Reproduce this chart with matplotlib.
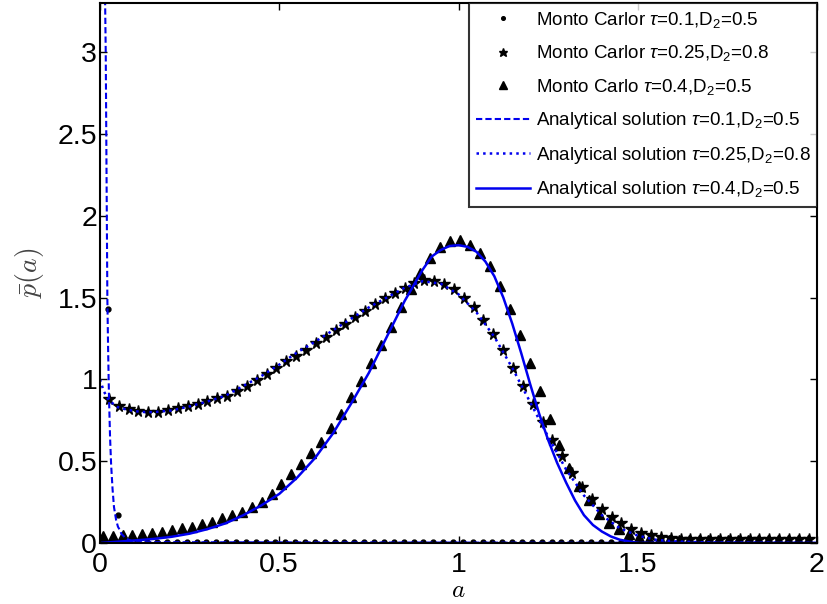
import numpy as np
import matplotlib
matplotlib.use("Agg")
import matplotlib.pyplot as plt

plt.rcParams['font.family'] = ['Liberation Sans', 'DejaVu Sans']
plt.rcParams['mathtext.fontset'] = 'custom'
plt.rcParams['mathtext.rm'] = 'Liberation Sans'
plt.rcParams['mathtext.it'] = 'Liberation Sans:italic'

# ---------------- data ----------------
# Monte Carlo, tau=0.1, D2=0.5 (dots)
mc1_x = [0.022, 0.0495] + [0.077 + 0.0275 * k for k in range(70)]
mc1_y = [1.43, 0.17, 0.012] + [0.004] * 69

# Monte Carlo, tau=0.25, D2=0.8 (stars)
mc2_x = [0.0245 + 0.0275 * k for k in range(72)]
mc2_y = [0.88, 0.835, 0.82, 0.805, 0.80, 0.80, 0.81, 0.825, 0.835, 0.85,
         0.87, 0.885, 0.90, 0.93, 0.96, 0.995, 1.03, 1.07, 1.11, 1.14,
         1.18, 1.22, 1.26, 1.30, 1.34, 1.38, 1.42, 1.46, 1.50, 1.53,
         1.56, 1.59, 1.61, 1.60, 1.58, 1.55, 1.50, 1.44, 1.36, 1.28,
         1.18, 1.07, 0.96, 0.85, 0.74, 0.63, 0.53, 0.43, 0.34, 0.27,
         0.21, 0.16, 0.12, 0.085, 0.06, 0.048, 0.037, 0.03] + [0.025] * 14

# Monte Carlo, tau=0.4, D2=0.5 (triangles)
mc3_x = [0.0075 + 0.0277 * k for k in range(72)]
mc3_y = [0.04, 0.043, 0.05, 0.05, 0.055, 0.06, 0.07, 0.08, 0.09, 0.10,
         0.115, 0.13, 0.15, 0.17, 0.19, 0.22, 0.25, 0.30, 0.36, 0.42,
         0.48, 0.55, 0.62, 0.70, 0.79, 0.89, 0.99, 1.10, 1.21, 1.32,
         1.44, 1.55, 1.65, 1.74, 1.81, 1.845, 1.85, 1.82, 1.77, 1.69,
         1.57, 1.43, 1.27, 1.10, 0.93, 0.76, 0.60, 0.46, 0.35, 0.26,
         0.18, 0.12, 0.085, 0.055, 0.035, 0.025] + [0.02] * 16

# Analytical solution, tau=0.1, D2=0.5 (dashed)
an1_x = [0.014, 0.016, 0.0175, 0.019, 0.0205, 0.0225, 0.025, 0.028, 0.031,
         0.035, 0.039, 0.045, 0.05, 0.055, 0.06, 0.069, 0.08, 0.09, 0.1, 2.0]
an1_y = [3.35, 3.0, 2.5, 2.0, 1.5, 1.2, 0.9, 0.65, 0.48,
         0.33, 0.22, 0.14, 0.10, 0.08, 0.055, 0.035, 0.02, 0.01, 0.005, 0.0]

# Analytical solution, tau=0.25, D2=0.8 (dotted)
an2_x = [0.0, 0.01, 0.025, 0.05, 0.075, 0.1, 0.125, 0.15, 0.2, 0.25, 0.3,
         0.35, 0.4, 0.45, 0.5, 0.55, 0.6, 0.65, 0.7, 0.75, 0.8, 0.85, 0.9,
         0.95, 1.0, 1.05, 1.1, 1.15, 1.2, 1.25, 1.3, 1.35, 1.4, 1.45, 1.5,
         1.55, 1.6, 1.7, 2.0]
an2_y = [1.0, 0.93, 0.87, 0.83, 0.815, 0.805, 0.80, 0.80, 0.81, 0.835, 0.865,
         0.90, 0.96, 1.02, 1.09, 1.165, 1.23, 1.30, 1.37, 1.44, 1.50, 1.56, 1.60,
         1.585, 1.52, 1.41, 1.26, 1.07, 0.86, 0.65, 0.45, 0.29, 0.17, 0.09, 0.045,
         0.02, 0.01, 0.003, 0.0]

# Analytical solution, tau=0.4, D2=0.5 (solid)
an3_x = [0.0, 0.05, 0.1, 0.15, 0.2, 0.25, 0.3, 0.35, 0.4, 0.45, 0.5, 0.55,
         0.6, 0.65, 0.7, 0.75, 0.8, 0.85, 0.9, 0.925, 0.95, 0.975, 1.0, 1.025,
         1.05, 1.075, 1.1, 1.125, 1.15, 1.175, 1.2, 1.225, 1.25, 1.275, 1.3,
         1.325, 1.35, 1.375, 1.4, 1.425, 1.45, 1.5, 2.0]
an3_y = [0.0, 0.008, 0.016, 0.025, 0.038, 0.057, 0.085, 0.12, 0.17, 0.23, 0.30, 0.40,
         0.52, 0.67, 0.85, 1.04, 1.26, 1.48, 1.67, 1.75, 1.79, 1.815, 1.82, 1.81,
         1.78, 1.72, 1.63, 1.50, 1.34, 1.16, 0.97, 0.79, 0.63, 0.49, 0.37,
         0.26, 0.17, 0.11, 0.07, 0.04, 0.02, 0.0, 0.0]

labels = [r'Monto Carlor $\tau$=0.1,D$_2$=0.5',
          r'Monto Carlor $\tau$=0.25,D$_2$=0.8',
          r'Monto Carlo $\tau$=0.4,D$_2$=0.5',
          r'Analytical solution $\tau$=0.1,D$_2$=0.5',
          r'Analytical solution $\tau$=0.25,D$_2$=0.8',
          r'Analytical solution $\tau$=0.4,D$_2$=0.5']

# ---------------- figure ----------------
fig = plt.figure(figsize=(8.27, 6.04), dpi=100)
ax = fig.add_axes([100 / 827, 1 - 543 / 604, 717 / 827, 540 / 604])

blue = '#0000ee'
h1, = ax.plot(mc1_x, mc1_y, 'o', color='black', ms=3.5, ls='none', label=labels[0])
h2, = ax.plot(mc2_x, mc2_y, '*', color='black', ms=8.5, ls='none', label=labels[1])
h3, = ax.plot(mc3_x, mc3_y, '^', color='black', ms=7, ls='none', label=labels[2])
h4, = ax.plot(an1_x, an1_y, '--', color=blue, lw=1.5, dashes=(3, 1.5), label=labels[3])
h5, = ax.plot(an2_x, an2_y, ':', color=blue, lw=1.8, label=labels[4])
h6, = ax.plot(an3_x, an3_y, '-', color=blue, lw=1.8, label=labels[5])

ax.set_xlim(0, 2)
ax.set_ylim(0, 3.3)
ax.set_xticks([0, 0.5, 1, 1.5, 2])
ax.set_xticklabels(['0', '0.5', '1', '1.5', '2'])
ax.set_yticks([0, 0.5, 1, 1.5, 2, 2.5, 3])
ax.set_yticklabels(['0', '0.5', '1', '1.5', '2', '2.5', '3'])
ax.tick_params(direction='in', length=5, width=1, labelsize=20.5,
               top=True, right=True)
ax.tick_params(axis='x', pad=6.5)
ax.tick_params(axis='y', pad=2)
for s in ax.spines.values():
    s.set_linewidth(1.5)

ax.set_xlabel(r'$a$', fontsize=18, labelpad=0, math_fontfamily='cm')
ax.set_ylabel(r'$\bar{p}(a)$', fontsize=20, labelpad=8, math_fontfamily='cm',
              color='#444444')

leg = ax.legend(handles=[h1, h2, h3, h4, h5, h6], loc='upper right',
                fontsize=13.5, frameon=True, fancybox=False, edgecolor='black',
                borderaxespad=0, handlelength=2.9, handletextpad=0.3,
                labelspacing=0.72, borderpad=0.35, markerscale=0.75)
leg.get_frame().set_linewidth(1.5)

fig.savefig('out.png', dpi=100)
